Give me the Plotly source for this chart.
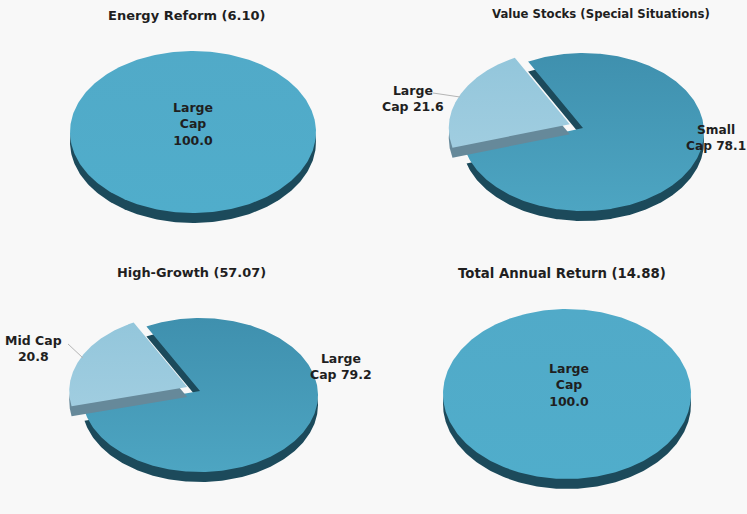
import numpy as np
import plotly.graph_objects as go

W, H = 747, 514

# ---- data ----
titles = ["Energy Reform (6.10)", "Value Stocks (Special Situations)",
          "High-Growth (57.07)", "Total Annual Return (14.88)"]
main_labels = ["Large<br>Cap<br>100.0", "Small<br>Cap 78.1", "Large<br>Cap 79.2", "Large<br>Cap<br>100.0"]
slice_labels = [None, "Large<br>Cap 21.6", "Mid Cap<br>20.8", None]
main_values = [100.0, 78.1, 79.2, 100.0]
slice_values = [0.0, 21.6, 20.8, 0.0]

# ---- layout & style ----
centers = [(193, 132), (583, 132), (200, 395), (567, 394)]
radii = [(123, 81), (121, 79), (118, 77), (124, 85)]
depth_px = [10, 10, 10, 10]
title_pos = [(187, 15), (601, 14), (192, 272), (562, 273)]
title_sizes = [13, 11.7, 12.9, 13.3]
main_label_pos = [(193, 124), (716, 138), (341, 366), (569, 385)]
main_label_sizes = [12.5, 12.2, 12.5, 12.5]
slice_label_pos = [None, (413, 99), (33, 348), None]
leader = [None, [(433, 93), (460, 97)], [(68, 344), (83, 358)], None]
SLICE_END_ANGLE = 333.0     # clockwise from 12 o'clock
EXPLODE = 0.12
APEX_LIFT_PX = 4            # the tilted view puts the pie's apex above the ellipse's middle
PAD = 1.3
MAIN_GRAD = [[[0, "#50adcb"], [1, "#51aac8"]],
             [[0, "#4da5c2"], [1, "#3f90ae"]],
             [[0, "#4da5c2"], [1, "#3f90ae"]],
             [[0, "#50adcb"], [1, "#51aac8"]]]
SLICE_GRAD = [[0, "#a0cde0"], [1, "#93c6db"]]
SIDE = "#1c4a5b"
SLICE_SIDE = "#66899a"
BG = "#f8f8f8"
TXT = "#1f1f1f"


def wedge(start, sweep, ox=0.0, oy=0.0, lift=0.0):
    a = np.radians(np.linspace(start, start + sweep, 361))
    x, y = np.sin(a) + ox, np.cos(a) + oy
    if abs(sweep) < 360:
        x, y = np.r_[ox, x, ox], np.r_[oy + lift, y, oy + lift]
    return x, y


fig = go.Figure()
layout = dict(width=W, height=H, margin=dict(l=0, r=0, t=0, b=0), paper_bgcolor=BG,
              plot_bgcolor="rgba(0,0,0,0)", showlegend=False)
annotations = []


def to_axis(px, py, c, r):
    return (px - c[0]) / r[0], (c[1] - py) / r[1]


for i in range(4):
    c, r = centers[i], radii[i]
    s = "" if i == 0 else str(i + 1)
    xa, ya = "x" + s, "y" + s
    layout["xaxis" + s] = dict(domain=[(c[0] - PAD * r[0]) / W, (c[0] + PAD * r[0]) / W],
                               range=[-PAD, PAD], visible=False, fixedrange=True)
    layout["yaxis" + s] = dict(domain=[1 - (c[1] + PAD * r[1]) / H, 1 - (c[1] - PAD * r[1]) / H],
                               range=[-PAD, PAD], visible=False, fixedrange=True)
    d = depth_px[i] / r[1]
    lift = APEX_LIFT_PX / r[1]

    def add(x, y, **kw):
        fig.add_trace(go.Scatter(x=x, y=y, xaxis=xa, yaxis=ya, mode="lines", hoverinfo="skip", **kw))

    sl = slice_values[i]
    sl_sweep = sl / 100 * 360
    main_sweep = main_values[i] / 100 * 360
    # main wedge runs clockwise from the cut
    x, y = wedge(SLICE_END_ANGLE, main_sweep if sl else 360, lift=lift)
    add(x, y - d, fill="toself", fillcolor=SIDE, line=dict(width=0))
    add(x, y, fill="toself", line=dict(width=0),
        fillgradient=dict(type="vertical", colorscale=MAIN_GRAD[i]))
    if sl:
        mid = np.radians(SLICE_END_ANGLE - sl_sweep / 2)
        ox, oy = EXPLODE * np.sin(mid), EXPLODE * np.cos(mid)
        x, y = wedge(SLICE_END_ANGLE - sl_sweep, sl_sweep, ox, oy, lift=lift)
        add(x, y - d, fill="toself", fillcolor=SLICE_SIDE, line=dict(width=0))
        add(x, y, fill="toself", line=dict(width=0),
            fillgradient=dict(type="vertical", colorscale=SLICE_GRAD))
        pts = [to_axis(px, py, c, r) for px, py in leader[i]]
        add([p[0] for p in pts], [p[1] for p in pts], line=dict(color="#b5b5b5", width=1))

    annotations.append(dict(text=titles[i], x=title_pos[i][0] / W, y=1 - title_pos[i][1] / H,
                            xref="paper", yref="paper", showarrow=False, xanchor="center", yanchor="middle",
                            font=dict(size=title_sizes[i], family="DejaVu Sans", color=TXT, weight="bold")))
    for lab, pos, size in ((main_labels[i], main_label_pos[i], main_label_sizes[i]),
                           (slice_labels[i], slice_label_pos[i], 12.5)):
        if lab:
            annotations.append(dict(text=lab, x=pos[0] / W, y=1 - pos[1] / H, xref="paper", yref="paper",
                                    showarrow=False, align="center", xanchor="center", yanchor="middle",
                                    font=dict(size=size, family="DejaVu Sans", color=TXT, weight="bold")))

fig.update_layout(**layout, annotations=annotations)
fig.write_html("out.html", config=dict(displayModeBar=False),
               post_script="document.body.style.margin='0';document.body.style.background='#f8f8f8';")
